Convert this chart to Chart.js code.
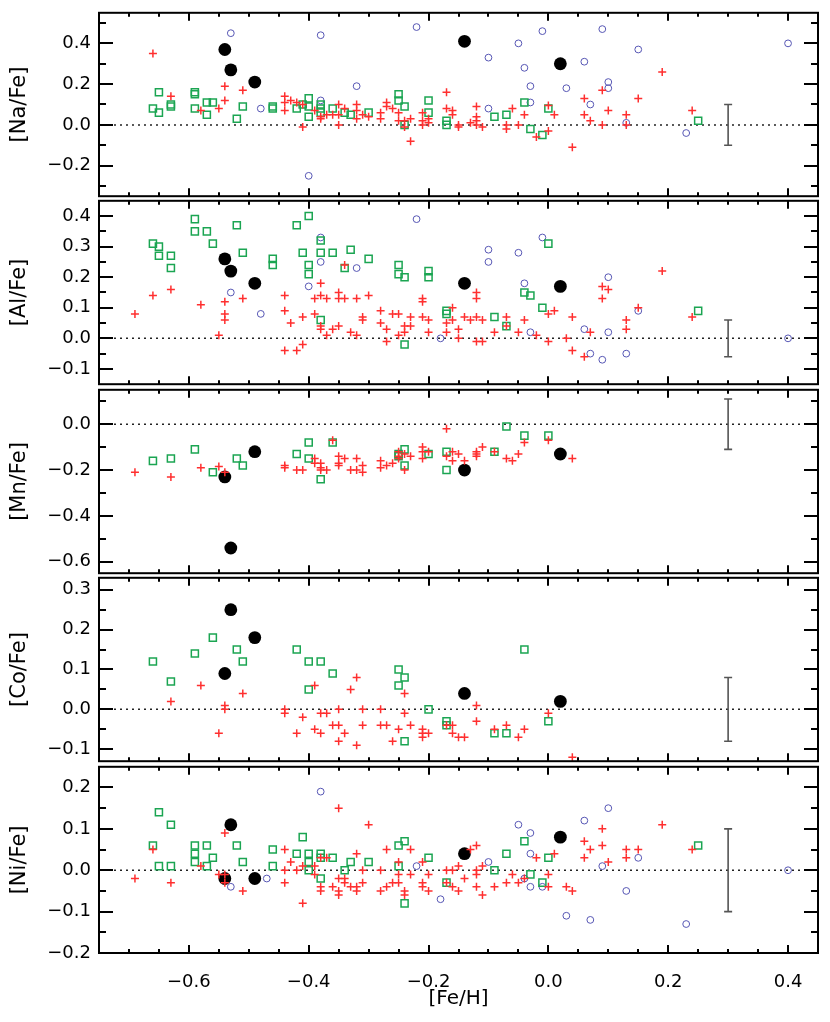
<!DOCTYPE html>
<html>
<head>
<meta charset="utf-8">
<script src="https://cdn.jsdelivr.net/npm/chart.js@4.4.1/dist/chart.umd.min.js"></script>
<style>
  html, body { margin: 0; padding: 0; background: #fff; }
  #wrap { position: relative; width: 830px; height: 1022px; overflow: hidden; }
  #wrap canvas { position: absolute; left: 0; }
</style>
</head>
<body>
<div id="wrap"></div>
<script>
// ---- data ----
const xMin = -0.75, xMax = 0.45;
const feHTicks = [-0.6, -0.4, -0.2, 0.0, 0.2, 0.4];
const zeroLine = [-0.725, 0.425];

// big filled circles: same stars in every panel
const bigFeH = [-0.54, -0.53, -0.49, -0.14, 0.02];
const naBig = [0.37, 0.27, 0.21, 0.41, 0.30];
const alBig = [0.26, 0.22, 0.18, 0.18, 0.17];
const mnBig = [-0.23, -0.54, -0.12, -0.20, -0.13];
const coBig = [0.09, 0.25, 0.18, 0.04, 0.02];
const niBig = [-0.02, 0.11, -0.02, 0.04, 0.08];

// [Na/Fe]
const naPlus = [[-0.66,0.35],[-0.63,0.14],[-0.58,0.07],[-0.55,0.08],[-0.54,0.19],[-0.54,0.12],[-0.51,0.17],
  [-0.44,0.14],[-0.44,0.11],[-0.44,0.07],[-0.43,0.12],[-0.42,0.11],[-0.41,0.10],[-0.41,-0.01],
  [-0.39,0.07],[-0.38,0.04],[-0.38,0.03],[-0.37,0.05],[-0.36,0.05],[-0.35,0.10],[-0.35,0.05],[-0.35,0.00],
  [-0.34,0.08],[-0.32,0.10],[-0.32,0.07],[-0.32,0.03],[-0.31,0.05],[-0.30,0.04],[-0.28,0.06],[-0.28,0.03],
  [-0.27,0.11],[-0.27,0.09],[-0.26,0.08],[-0.25,0.06],[-0.25,0.02],[-0.24,0.02],[-0.24,-0.01],[-0.23,0.03],[-0.23,-0.08],
  [-0.21,0.06],[-0.21,0.02],[-0.21,0.00],[-0.20,0.03],[-0.20,0.01],[-0.17,0.16],[-0.17,0.08],
  [-0.16,0.07],[-0.16,0.05],[-0.15,0.00],[-0.15,-0.01],[-0.13,0.01],[-0.12,0.09],[-0.12,0.04],[-0.12,0.02],[-0.12,0.00],
  [-0.11,-0.01],[-0.07,0.00],[-0.07,-0.02],[-0.06,0.08],[-0.05,0.00],[-0.04,0.05],[-0.02,-0.06],[0.00,0.095],[0.00,-0.03],
  [0.01,0.05],[0.04,-0.11],[0.06,0.13],[0.06,0.05],[0.07,0.02],[0.09,0.17],[0.09,0.00],[0.10,0.07],[0.13,0.05],[0.13,0.00],
  [0.15,0.13],[0.19,0.26],[0.24,0.07]];
const naSquare = [[-0.66,0.08],[-0.65,0.16],[-0.65,0.06],[-0.63,0.10],[-0.63,0.09],[-0.59,0.16],[-0.59,0.15],[-0.59,0.08],
  [-0.57,0.05],[-0.57,0.11],[-0.56,0.11],[-0.52,0.03],[-0.51,0.09],[-0.46,0.09],[-0.46,0.08],[-0.42,0.08],[-0.41,0.10],
  [-0.40,0.13],[-0.40,0.09],[-0.40,0.04],[-0.38,0.10],[-0.38,0.08],[-0.38,0.06],[-0.36,0.08],[-0.34,0.06],[-0.33,0.05],
  [-0.30,0.06],[-0.25,0.15],[-0.25,0.12],[-0.24,0.09],[-0.24,0.00],[-0.20,0.12],[-0.20,0.06],[-0.17,0.02],[-0.17,0.00],
  [-0.09,0.04],[-0.07,0.05],[-0.04,0.11],[-0.03,-0.02],[-0.01,-0.05],[0.00,0.08],[0.25,0.02]];
const naCircle = [[-0.53,0.45],[-0.48,0.08],[-0.38,0.44],[-0.38,0.12],[-0.32,0.19],[-0.40,-0.25],[-0.22,0.48],
  [-0.10,0.33],[-0.05,0.40],[-0.04,0.28],[-0.03,0.19],[-0.03,0.11],[-0.01,0.46],[-0.10,0.08],[0.03,0.18],[0.06,0.31],
  [0.07,0.10],[0.09,0.47],[0.10,0.21],[0.10,0.18],[0.13,0.01],[0.15,0.37],[0.23,-0.04],[0.40,0.40]];

// [Al/Fe]
const alPlus = [[-0.69,0.08],[-0.66,0.14],[-0.63,0.16],[-0.58,0.11],[-0.55,0.01],[-0.54,0.12],[-0.54,0.08],[-0.54,0.06],
  [-0.51,0.13],[-0.44,0.14],[-0.44,0.09],[-0.44,-0.04],[-0.43,0.05],[-0.42,-0.04],[-0.41,0.07],[-0.41,-0.02],[-0.39,0.13],
  [-0.39,0.08],[-0.38,0.18],[-0.38,0.14],[-0.38,0.04],[-0.38,0.03],[-0.37,0.13],[-0.37,0.01],[-0.36,0.03],[-0.35,0.15],
  [-0.35,0.13],[-0.35,0.04],[-0.34,0.24],[-0.34,0.13],[-0.33,0.02],[-0.32,0.13],[-0.32,0.01],[-0.31,0.07],[-0.31,0.06],
  [-0.30,0.14],[-0.28,0.09],[-0.28,0.05],[-0.27,0.03],[-0.27,-0.01],[-0.26,0.08],[-0.25,0.08],[-0.25,0.01],[-0.24,0.04],
  [-0.24,0.02],[-0.23,0.07],[-0.23,0.04],[-0.21,0.13],[-0.21,0.12],[-0.21,0.07],[-0.20,0.06],[-0.20,0.02],[-0.17,0.05],
  [-0.17,0.02],[-0.16,0.10],[-0.16,0.06],[-0.15,0.03],[-0.15,0.00],[-0.14,0.07],[-0.13,0.06],[-0.12,0.15],[-0.12,0.13],
  [-0.12,0.07],[-0.12,-0.01],[-0.11,0.06],[-0.11,-0.01],[-0.09,0.02],[-0.07,0.07],[-0.07,0.04],[-0.05,0.02],[-0.04,0.06],
  [-0.02,0.01],[0.00,0.08],[0.00,-0.01],[0.01,0.09],[0.03,0.00],[0.04,0.07],[0.04,-0.04],[0.06,-0.06],[0.07,0.02],
  [0.09,0.17],[0.09,0.13],[0.10,0.16],[0.13,0.06],[0.13,0.03],[0.15,0.10],[0.19,0.22],[0.24,0.07]];
const alSquare = [[-0.66,0.31],[-0.65,0.30],[-0.65,0.27],[-0.63,0.27],[-0.63,0.23],[-0.59,0.39],[-0.59,0.35],[-0.57,0.35],
  [-0.56,0.31],[-0.52,0.37],[-0.51,0.28],[-0.46,0.26],[-0.46,0.24],[-0.42,0.37],[-0.41,0.28],[-0.40,0.40],[-0.40,0.24],
  [-0.40,0.21],[-0.38,0.32],[-0.38,0.28],[-0.38,0.06],[-0.36,0.28],[-0.34,0.23],[-0.33,0.29],[-0.30,0.26],[-0.25,0.24],
  [-0.25,0.21],[-0.24,0.20],[-0.24,-0.02],[-0.20,0.22],[-0.20,0.20],[-0.17,0.09],[-0.17,0.08],[-0.09,0.07],[-0.07,0.04],
  [-0.04,0.15],[-0.03,0.14],[-0.01,0.10],[0.00,0.31],[0.25,0.09]];
const alCircle = [[-0.53,0.15],[-0.48,0.08],[-0.40,0.17],[-0.38,0.33],[-0.38,0.25],[-0.32,0.23],[-0.22,0.39],[-0.18,0.00],
  [-0.10,0.29],[-0.10,0.25],[-0.05,0.28],[-0.04,0.18],[-0.03,0.02],[-0.01,0.33],[0.06,0.03],[0.07,-0.05],[0.09,-0.07],
  [0.10,0.20],[0.10,0.02],[0.13,-0.05],[0.15,0.09],[0.40,0.00]];

// [Mn/Fe]
const mnPlus = [[-0.69,-0.21],[-0.63,-0.23],[-0.58,-0.19],[-0.55,-0.185],[-0.54,-0.21],[-0.44,-0.18],[-0.44,-0.19],
  [-0.42,-0.20],[-0.41,-0.20],[-0.39,-0.15],[-0.39,-0.17],[-0.38,-0.17],[-0.38,-0.19],[-0.38,-0.20],[-0.37,-0.20],
  [-0.36,-0.07],[-0.35,-0.14],[-0.35,-0.17],[-0.35,-0.18],[-0.34,-0.15],[-0.33,-0.20],[-0.32,-0.15],[-0.32,-0.20],
  [-0.31,-0.18],[-0.31,-0.21],[-0.28,-0.16],[-0.28,-0.19],[-0.27,-0.18],[-0.26,-0.17],[-0.25,-0.12],[-0.25,-0.14],
  [-0.25,-0.15],[-0.24,-0.13],[-0.24,-0.20],[-0.23,-0.14],[-0.21,-0.10],[-0.21,-0.12],[-0.21,-0.15],[-0.20,-0.12],
  [-0.17,-0.02],[-0.17,-0.14],[-0.16,-0.12],[-0.16,-0.16],[-0.15,-0.13],[-0.14,-0.16],[-0.12,-0.12],[-0.12,-0.13],
  [-0.12,-0.14],[-0.11,-0.10],[-0.09,-0.12],[-0.07,-0.15],[-0.06,-0.16],[-0.05,-0.13],[-0.04,-0.08],[0.00,-0.07],[0.04,-0.15]];
const mnSquare = [[-0.66,-0.16],[-0.63,-0.15],[-0.59,-0.11],[-0.56,-0.21],[-0.52,-0.15],[-0.51,-0.18],[-0.42,-0.13],
  [-0.40,-0.08],[-0.40,-0.15],[-0.38,-0.24],[-0.36,-0.08],[-0.25,-0.13],[-0.25,-0.14],[-0.24,-0.11],[-0.24,-0.18],
  [-0.20,-0.13],[-0.17,-0.12],[-0.17,-0.20],[-0.09,-0.12],[-0.07,-0.01],[-0.04,-0.05],[0.00,-0.05]];
const mnCircle = [];

// [Co/Fe]
const coPlus = [[-0.63,0.02],[-0.58,0.06],[-0.55,-0.06],[-0.54,0.01],[-0.54,0.00],[-0.51,0.04],[-0.44,0.00],[-0.44,-0.01],
  [-0.42,-0.06],[-0.41,-0.02],[-0.39,0.06],[-0.39,-0.05],[-0.38,-0.01],[-0.38,-0.06],[-0.37,-0.01],[-0.36,-0.04],
  [-0.35,0.00],[-0.35,-0.04],[-0.35,-0.08],[-0.34,-0.06],[-0.33,0.05],[-0.32,0.08],[-0.32,-0.09],[-0.31,0.00],[-0.31,-0.04],
  [-0.28,0.00],[-0.28,-0.04],[-0.27,-0.04],[-0.26,-0.08],[-0.25,-0.05],[-0.24,0.04],[-0.24,-0.01],[-0.23,-0.04],
  [-0.21,-0.05],[-0.21,-0.06],[-0.21,-0.07],[-0.20,-0.06],[-0.17,-0.04],[-0.16,-0.04],[-0.16,-0.06],[-0.15,-0.07],
  [-0.14,-0.07],[-0.12,0.01],[-0.12,-0.03],[-0.09,-0.05],[-0.07,-0.04],[-0.05,-0.07],[-0.04,-0.05],[0.00,-0.01],[0.04,-0.12]];
const coSquare = [[-0.66,0.12],[-0.63,0.07],[-0.59,0.14],[-0.56,0.18],[-0.52,0.15],[-0.51,0.12],[-0.42,0.15],[-0.40,0.12],
  [-0.40,0.05],[-0.38,0.12],[-0.36,0.09],[-0.25,0.10],[-0.25,0.06],[-0.24,0.08],[-0.24,-0.08],[-0.20,0.00],[-0.17,-0.03],
  [-0.17,-0.04],[-0.09,-0.06],[-0.07,-0.06],[-0.04,0.15],[0.00,-0.03]];
const coCircle = [];

// [Ni/Fe]
const niPlus = [[-0.69,-0.02],[-0.66,0.05],[-0.63,-0.03],[-0.58,0.01],[-0.55,-0.01],[-0.54,0.09],[-0.54,-0.01],[-0.54,-0.03],
  [-0.51,-0.05],[-0.44,0.05],[-0.44,0.00],[-0.44,-0.03],[-0.43,0.02],[-0.42,0.00],[-0.41,0.01],[-0.41,-0.08],[-0.39,0.01],
  [-0.39,-0.01],[-0.38,0.03],[-0.38,-0.04],[-0.38,-0.05],[-0.37,0.03],[-0.36,-0.04],[-0.35,0.15],[-0.35,-0.02],[-0.35,-0.05],
  [-0.35,-0.06],[-0.34,-0.02],[-0.34,-0.03],[-0.33,-0.04],[-0.32,0.04],[-0.32,-0.04],[-0.32,-0.05],[-0.31,0.00],[-0.31,-0.03],
  [-0.30,0.11],[-0.28,0.00],[-0.28,-0.05],[-0.27,0.05],[-0.27,-0.04],[-0.26,-0.03],[-0.25,0.02],[-0.25,-0.01],[-0.25,-0.03],
  [-0.24,-0.05],[-0.24,-0.06],[-0.23,0.05],[-0.23,-0.01],[-0.21,0.02],[-0.21,-0.03],[-0.21,-0.04],[-0.20,-0.01],[-0.20,-0.05],
  [-0.17,0.00],[-0.17,-0.03],[-0.16,0.00],[-0.16,-0.04],[-0.15,0.01],[-0.15,-0.05],[-0.14,-0.02],[-0.13,0.05],[-0.12,0.06],
  [-0.12,0.00],[-0.12,-0.01],[-0.12,-0.04],[-0.11,0.01],[-0.11,-0.06],[-0.09,-0.04],[-0.07,-0.03],[-0.06,-0.01],[-0.05,-0.03],
  [-0.04,-0.02],[-0.02,0.03],[0.00,-0.01],[0.00,-0.04],[0.01,0.04],[0.03,-0.04],[0.04,-0.05],[0.06,0.07],[0.06,0.03],
  [0.07,0.05],[0.09,0.10],[0.09,0.06],[0.10,0.02],[0.13,0.05],[0.13,0.03],[0.15,0.05],[0.19,0.11],[0.24,0.05]];
const niSquare = [[-0.66,0.06],[-0.65,0.14],[-0.65,0.01],[-0.63,0.11],[-0.63,0.01],[-0.59,0.06],[-0.59,0.04],[-0.59,0.02],
  [-0.57,0.06],[-0.57,0.01],[-0.56,0.03],[-0.52,0.06],[-0.51,0.02],[-0.46,0.05],[-0.46,0.01],[-0.42,0.04],[-0.41,0.08],
  [-0.40,0.04],[-0.40,0.02],[-0.40,0.00],[-0.38,0.04],[-0.38,0.03],[-0.38,-0.02],[-0.36,0.03],[-0.34,0.00],[-0.33,0.02],
  [-0.30,0.02],[-0.25,0.06],[-0.25,0.01],[-0.24,0.07],[-0.24,-0.08],[-0.20,0.03],[-0.17,-0.03],[-0.09,0.00],[-0.07,0.04],
  [-0.04,0.07],[-0.03,-0.01],[-0.01,-0.03],[0.00,0.03],[0.25,0.06]];
const niCircle = [[-0.53,-0.04],[-0.47,-0.02],[-0.38,0.19],[-0.22,0.01],[-0.18,-0.07],[-0.10,0.02],[-0.05,0.11],[-0.04,-0.02],
  [-0.03,0.09],[-0.03,0.04],[-0.03,-0.04],[-0.01,-0.04],[0.03,-0.11],[0.06,0.12],[0.07,-0.12],[0.09,0.01],[0.10,0.15],
  [0.13,-0.05],[0.15,0.03],[0.23,-0.13],[0.40,0.00]];

// typical error bar drawn at [Fe/H] = 0.3
const errFeH = 0.3;
const errSize = [0.10, 0.06, 0.11, 0.08, 0.10];

const panelTitles = ['[Na/Fe]', '[Al/Fe]', '[Mn/Fe]', '[Co/Fe]', '[Ni/Fe]'];
const panelMin = [-0.35, -0.15, -0.65, -0.13, -0.20];
const panelMax = [0.55, 0.45, 0.15, 0.33, 0.25];
const panelTicks = [
  [-0.2, 0.0, 0.2, 0.4],
  [-0.1, 0.0, 0.1, 0.2, 0.3, 0.4],
  [-0.6, -0.4, -0.2, 0.0],
  [-0.1, 0.0, 0.1, 0.2, 0.3],
  [-0.2, -0.1, 0.0, 0.1, 0.2]
];
const panelMinor = [0.1, 0.05, 0.1, 0.05, 0.05];

const panelData = [
  [naPlus, naSquare, naCircle, naBig],
  [alPlus, alSquare, alCircle, alBig],
  [mnPlus, mnSquare, mnCircle, mnBig],
  [coPlus, coSquare, coCircle, coBig],
  [niPlus, niSquare, niCircle, niBig]
];

// ---- layout ----
const pageW = 830, pageH = 1022;
const plotLeft = 99, plotRight = 818;
const edges = [10, 198.5, 387, 575.5, 764, 953];
const FONT = "'DejaVu Sans', sans-serif";

Chart.defaults.font.family = FONT;
Chart.defaults.color = '#000';

const fmt = v => (v < -1e-9 ? '\u2212' : '') + Math.abs(v).toFixed(1);
const toPts = arr => arr.map(p => ({ x: p[0], y: p[1] }));

// frame, inward ticks on all four sides, and the error bar
const framePlugin = {
  id: 'frame',
  afterDatasetsDraw(chart, args, opts) {
    const { ctx, chartArea: a } = chart;
    const xs = chart.scales.x, ys = chart.scales.y;
    ctx.save();

    // error bar
    const ex = xs.getPixelForValue(errFeH);
    const e1 = ys.getPixelForValue(opts.err), e2 = ys.getPixelForValue(-opts.err);
    ctx.strokeStyle = '#555';
    ctx.lineWidth = 1.6;
    ctx.beginPath();
    ctx.moveTo(ex, e1); ctx.lineTo(ex, e2);
    ctx.moveTo(ex - 4, e1); ctx.lineTo(ex + 4, e1);
    ctx.moveTo(ex - 4, e2); ctx.lineTo(ex + 4, e2);
    ctx.stroke();

    ctx.strokeStyle = '#000';
    ctx.lineWidth = 2;
    ctx.beginPath();
    // x ticks every 0.05, major every 0.2
    for (let k = Math.ceil(xMin / 0.05 + 1e-6); k <= Math.floor(xMax / 0.05 - 1e-6); k++) {
      const v = k * 0.05;
      const major = Math.abs(v / 0.2 - Math.round(v / 0.2)) < 1e-6;
      const len = major ? 8 : 4;
      const px = Math.round(xs.getPixelForValue(v));
      ctx.moveTo(px, a.bottom); ctx.lineTo(px, a.bottom - len);
      ctx.moveTo(px, a.top); ctx.lineTo(px, a.top + len);
    }
    // y ticks
    const step = opts.minor;
    for (let k = Math.ceil(ys.min / step + 1e-6); k <= Math.floor(ys.max / step - 1e-6); k++) {
      const v = k * step;
      const major = opts.major.some(m => Math.abs(m - v) < 1e-6);
      const len = major ? 14 : 7;
      const py = Math.round(ys.getPixelForValue(v));
      ctx.moveTo(a.left, py); ctx.lineTo(a.left + len, py);
      ctx.moveTo(a.right, py); ctx.lineTo(a.right - len, py);
    }
    ctx.stroke();
    ctx.strokeRect(a.left, a.top, a.right - a.left, a.bottom - a.top);
    ctx.restore();
  }
};

const wrap = document.getElementById('wrap');

panelData.forEach((sets, i) => {
  const last = i === panelData.length - 1;
  const T = edges[i], B = edges[i + 1];
  const cTop = Math.floor(T) - 16;
  const cH = last ? pageH - cTop : Math.ceil(B) + 16 - cTop;
  const xH = cH - (B - cTop);

  const canvas = document.createElement('canvas');
  canvas.width = pageW;
  canvas.height = cH;
  canvas.style.top = cTop + 'px';
  wrap.appendChild(canvas);

  const [plus, square, circle, big] = sets;

  new Chart(canvas, {
    type: 'scatter',
    data: {
      datasets: [
        {
          data: toPts(plus),
          pointStyle: 'cross', pointRadius: 4, borderWidth: 1.5,
          borderColor: '#ff2f2f', backgroundColor: '#ff2f2f', clip: false
        },
        {
          data: toPts(square),
          pointStyle: 'rect', pointRadius: 5, borderWidth: 1.5,
          borderColor: '#1ba552', backgroundColor: 'rgba(0,0,0,0)', clip: false
        },
        {
          data: toPts(circle),
          pointStyle: 'circle', pointRadius: 3.4, borderWidth: 1,
          borderColor: '#5656b4', backgroundColor: 'rgba(0,0,0,0)', clip: false
        },
        {
          data: bigFeH.map((x, j) => ({ x: x, y: big[j] })),
          pointStyle: 'circle', pointRadius: 6.4, borderWidth: 0,
          borderColor: '#000', backgroundColor: '#000', clip: false
        },
        {
          type: 'line',
          data: zeroLine.map(x => ({ x: x, y: 0 })),
          borderColor: '#222', borderWidth: 1.5, borderDash: [2, 4],
          pointRadius: 0, fill: false
        }
      ]
    },
    options: {
      responsive: false,
      animation: false,
      events: [],
      layout: { padding: { left: 0, right: pageW - plotRight, top: T - cTop, bottom: 0 } },
      plugins: {
        legend: { display: false },
        tooltip: { enabled: false },
        frame: { err: errSize[i], minor: panelMinor[i], major: panelTicks[i] }
      },
      scales: {
        x: {
          type: 'linear',
          min: xMin, max: xMax,
          grid: { display: false, drawTicks: false },
          border: { display: false },
          afterBuildTicks: s => { s.ticks = feHTicks.map(v => ({ value: v })); },
          afterFit: s => { s.height = xH; },
          ticks: {
            display: last,
            padding: 19,
            maxRotation: 0,
            autoSkip: false,
            font: { size: 18 },
            color: '#000',
            callback: v => fmt(v)
          },
          title: {
            display: last,
            text: '[Fe/H]',
            font: { size: 20 },
            color: '#000',
            padding: { top: 0, bottom: 11 }
          }
        },
        y: {
          type: 'linear',
          min: panelMin[i], max: panelMax[i],
          grid: { display: false, drawTicks: false },
          border: { display: false },
          afterBuildTicks: s => { s.ticks = panelTicks[i].map(v => ({ value: v })); },
          afterFit: s => { s.width = plotLeft; },
          ticks: {
            padding: 8,
            autoSkip: false,
            font: { size: 18 },
            color: '#000',
            callback: v => fmt(v)
          },
          title: {
            display: true,
            text: panelTitles[i],
            font: { size: 21 },
            color: '#000',
            padding: { top: 7, bottom: 0 }
          }
        }
      }
    },
    plugins: [framePlugin]
  });
});
</script>
</body>
</html>
